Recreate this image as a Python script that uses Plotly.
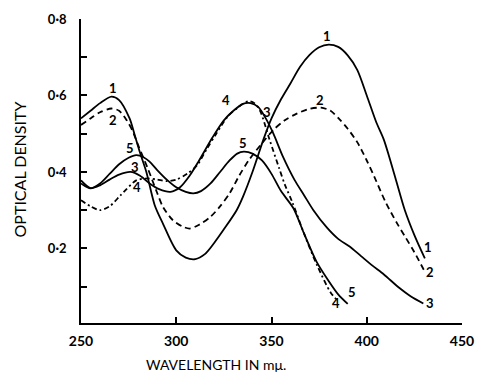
import plotly.graph_objects as go

# ---- data ----
wl1 = [250, 255, 260, 266, 270, 275.5, 278, 281, 284.3, 288.7, 293, 300, 305, 310, 315, 320, 325, 331.7, 335, 340, 345.7, 350, 355, 360, 365, 370, 375, 380, 385, 390, 395, 400, 405, 409, 415, 420, 425, 430.5]
od1 = [0.54, 0.56, 0.58, 0.597, 0.588, 0.54, 0.50, 0.45, 0.40, 0.313, 0.265, 0.195, 0.176, 0.172, 0.185, 0.215, 0.25, 0.30, 0.335, 0.40, 0.484, 0.54, 0.59, 0.632, 0.675, 0.706, 0.726, 0.733, 0.727, 0.705, 0.667, 0.600, 0.530, 0.484, 0.385, 0.30, 0.235, 0.174]

wl2 = [250, 255, 260, 266, 270, 274, 277, 280, 285, 290, 293, 298, 303, 307, 312, 318, 323, 328, 333, 338, 345, 351, 357, 363, 370, 376, 381, 386, 390, 395, 400, 404, 410, 416, 420, 425, 430.5]
od2 = [0.523, 0.54, 0.556, 0.566, 0.56, 0.535, 0.508, 0.47, 0.41, 0.345, 0.309, 0.275, 0.258, 0.252, 0.262, 0.283, 0.31, 0.344, 0.39, 0.43, 0.475, 0.51, 0.535, 0.552, 0.565, 0.568, 0.56, 0.536, 0.513, 0.478, 0.43, 0.387, 0.32, 0.265, 0.232, 0.19, 0.139]

wl3 = [250, 255, 260, 265, 270, 276, 281, 286, 291, 297, 302, 307, 312, 319, 325, 330, 335, 339, 343, 347, 351, 356, 362, 367, 372, 379, 385, 391, 397, 403, 409, 417, 423, 429.7]
od3 = [0.378, 0.358, 0.365, 0.38, 0.393, 0.40, 0.39, 0.37, 0.355, 0.348, 0.36, 0.39, 0.43, 0.49, 0.535, 0.56, 0.578, 0.58, 0.57, 0.54, 0.50, 0.44, 0.38, 0.34, 0.30, 0.255, 0.225, 0.205, 0.18, 0.155, 0.132, 0.097, 0.075, 0.056]

wl4 = [250, 255, 260, 265, 271, 279, 285, 290, 295, 300, 306, 311, 316, 321, 327, 333, 338, 341, 344, 349, 354, 357, 361, 367, 374, 381, 385]
od4 = [0.326, 0.31, 0.30, 0.31, 0.34, 0.378, 0.383, 0.38, 0.376, 0.38, 0.396, 0.418, 0.46, 0.50, 0.545, 0.571, 0.585, 0.58, 0.56, 0.484, 0.41, 0.367, 0.32, 0.24, 0.155, 0.085, 0.062]

wl5 = [250, 255, 260, 265, 270, 275, 279, 283, 286, 290, 295, 300, 305, 309, 313, 318, 323, 328, 332, 335.5, 340, 345, 350, 355, 361.5, 367, 373.7, 380, 385, 390]
od5 = [0.37, 0.357, 0.37, 0.395, 0.42, 0.437, 0.444, 0.438, 0.427, 0.405, 0.38, 0.36, 0.348, 0.344, 0.35, 0.37, 0.40, 0.43, 0.448, 0.453, 0.448, 0.43, 0.395, 0.35, 0.305, 0.24, 0.165, 0.115, 0.08, 0.055]

curve_names = ["1", "2", "3", "4", "5"]

# curve number labels: (text, wavelength, density)
label_text = ["1", "1", "1", "2", "2", "2", "3", "3", "3", "4", "4", "4", "5", "5", "5"]
label_wl = [266.6, 379, 432.2, 267, 375.5, 433.2, 278.3, 347.5, 433.2, 279.2, 326.1, 383.9, 275.7, 335.2, 392.1]
label_od = [0.619, 0.756, 0.204, 0.536, 0.588, 0.139, 0.414, 0.558, 0.057, 0.361, 0.588, 0.057, 0.462, 0.475, 0.086]

x_tickvals = [250, 300, 350, 400, 450]
x_ticktext = ["250", "300", "350", "400", "450"]
y_tickvals = [0.1, 0.2, 0.3, 0.4, 0.5, 0.6, 0.7, 0.8]
y_ticktext = ["", "0·2", "", "0·4", "", "0·6", "", "0·8"]

x_title = "WAVELENGTH IN mμ."
y_title = "OPTICAL DENSITY"

# ---- figure ----
series = [(wl1, od1, "solid"), (wl2, od2, "6px,4px"), (wl3, od3, "solid"),
          (wl4, od4, "5px,3px,2px,3px"), (wl5, od5, "solid")]

fig = go.Figure()
for name, (x, y, dash) in zip(curve_names, series):
    fig.add_trace(go.Scatter(
        x=x, y=y, mode="lines", name=name,
        line=dict(color="black", width=1.8, dash=dash, shape="spline", smoothing=0.8),
        showlegend=False, hoverinfo="skip"))

for t, xv, yv in zip(label_text, label_wl, label_od):
    fig.add_annotation(x=xv, y=yv, text=t, showarrow=False,
                       font=dict(family="Lato", size=13, color="black", weight="bold"))

fig.update_layout(
    width=477, height=373,
    margin=dict(l=81, r=15, t=19, b=50, autoexpand=False),
    paper_bgcolor="white", plot_bgcolor="white",
    font=dict(family="Lato", color="black"),
)
fig.update_xaxes(
    range=[250, 450], tickvals=x_tickvals, ticktext=x_ticktext, automargin=False,
    showgrid=False, zeroline=False, showline=True, linecolor="black", linewidth=1.8,
    ticks="inside", ticklen=6, tickwidth=1.5, tickcolor="black", ticklabeloverflow="allow",
    tickfont=dict(family="Lato", size=14, color="black", weight="bold"),
    ticklabelstandoff=4,
)
fig.update_yaxes(
    range=[0.005, 0.8], tickvals=y_tickvals, ticktext=y_ticktext, automargin=False,
    showgrid=False, zeroline=False, showline=True, linecolor="black", linewidth=1.8,
    ticks="inside", ticklen=6, tickwidth=1.5, tickcolor="black",
    tickfont=dict(family="Lato", size=13, color="black", weight="bold"),
    ticklabelstandoff=10,
)
fig.add_annotation(xref="paper", yref="paper", x=(216 - 81) / 381, y=-(364 - 323) / 304,
                   text=x_title, showarrow=False, yanchor="middle", xanchor="center",
                   font=dict(family="Lato", size=14, color="black"))
fig.add_annotation(xref="paper", yref="paper", x=(19 - 81) / 381, y=0.505, textangle=-90,
                   text=y_title, showarrow=False, xanchor="center", yanchor="middle",
                   font=dict(family="Lato", size=16, color="black"))

fig.write_html(
    "out.html",
    config={"displayModeBar": False},
    post_script="document.body.style.margin='0';document.body.style.overflow='hidden';",
)
